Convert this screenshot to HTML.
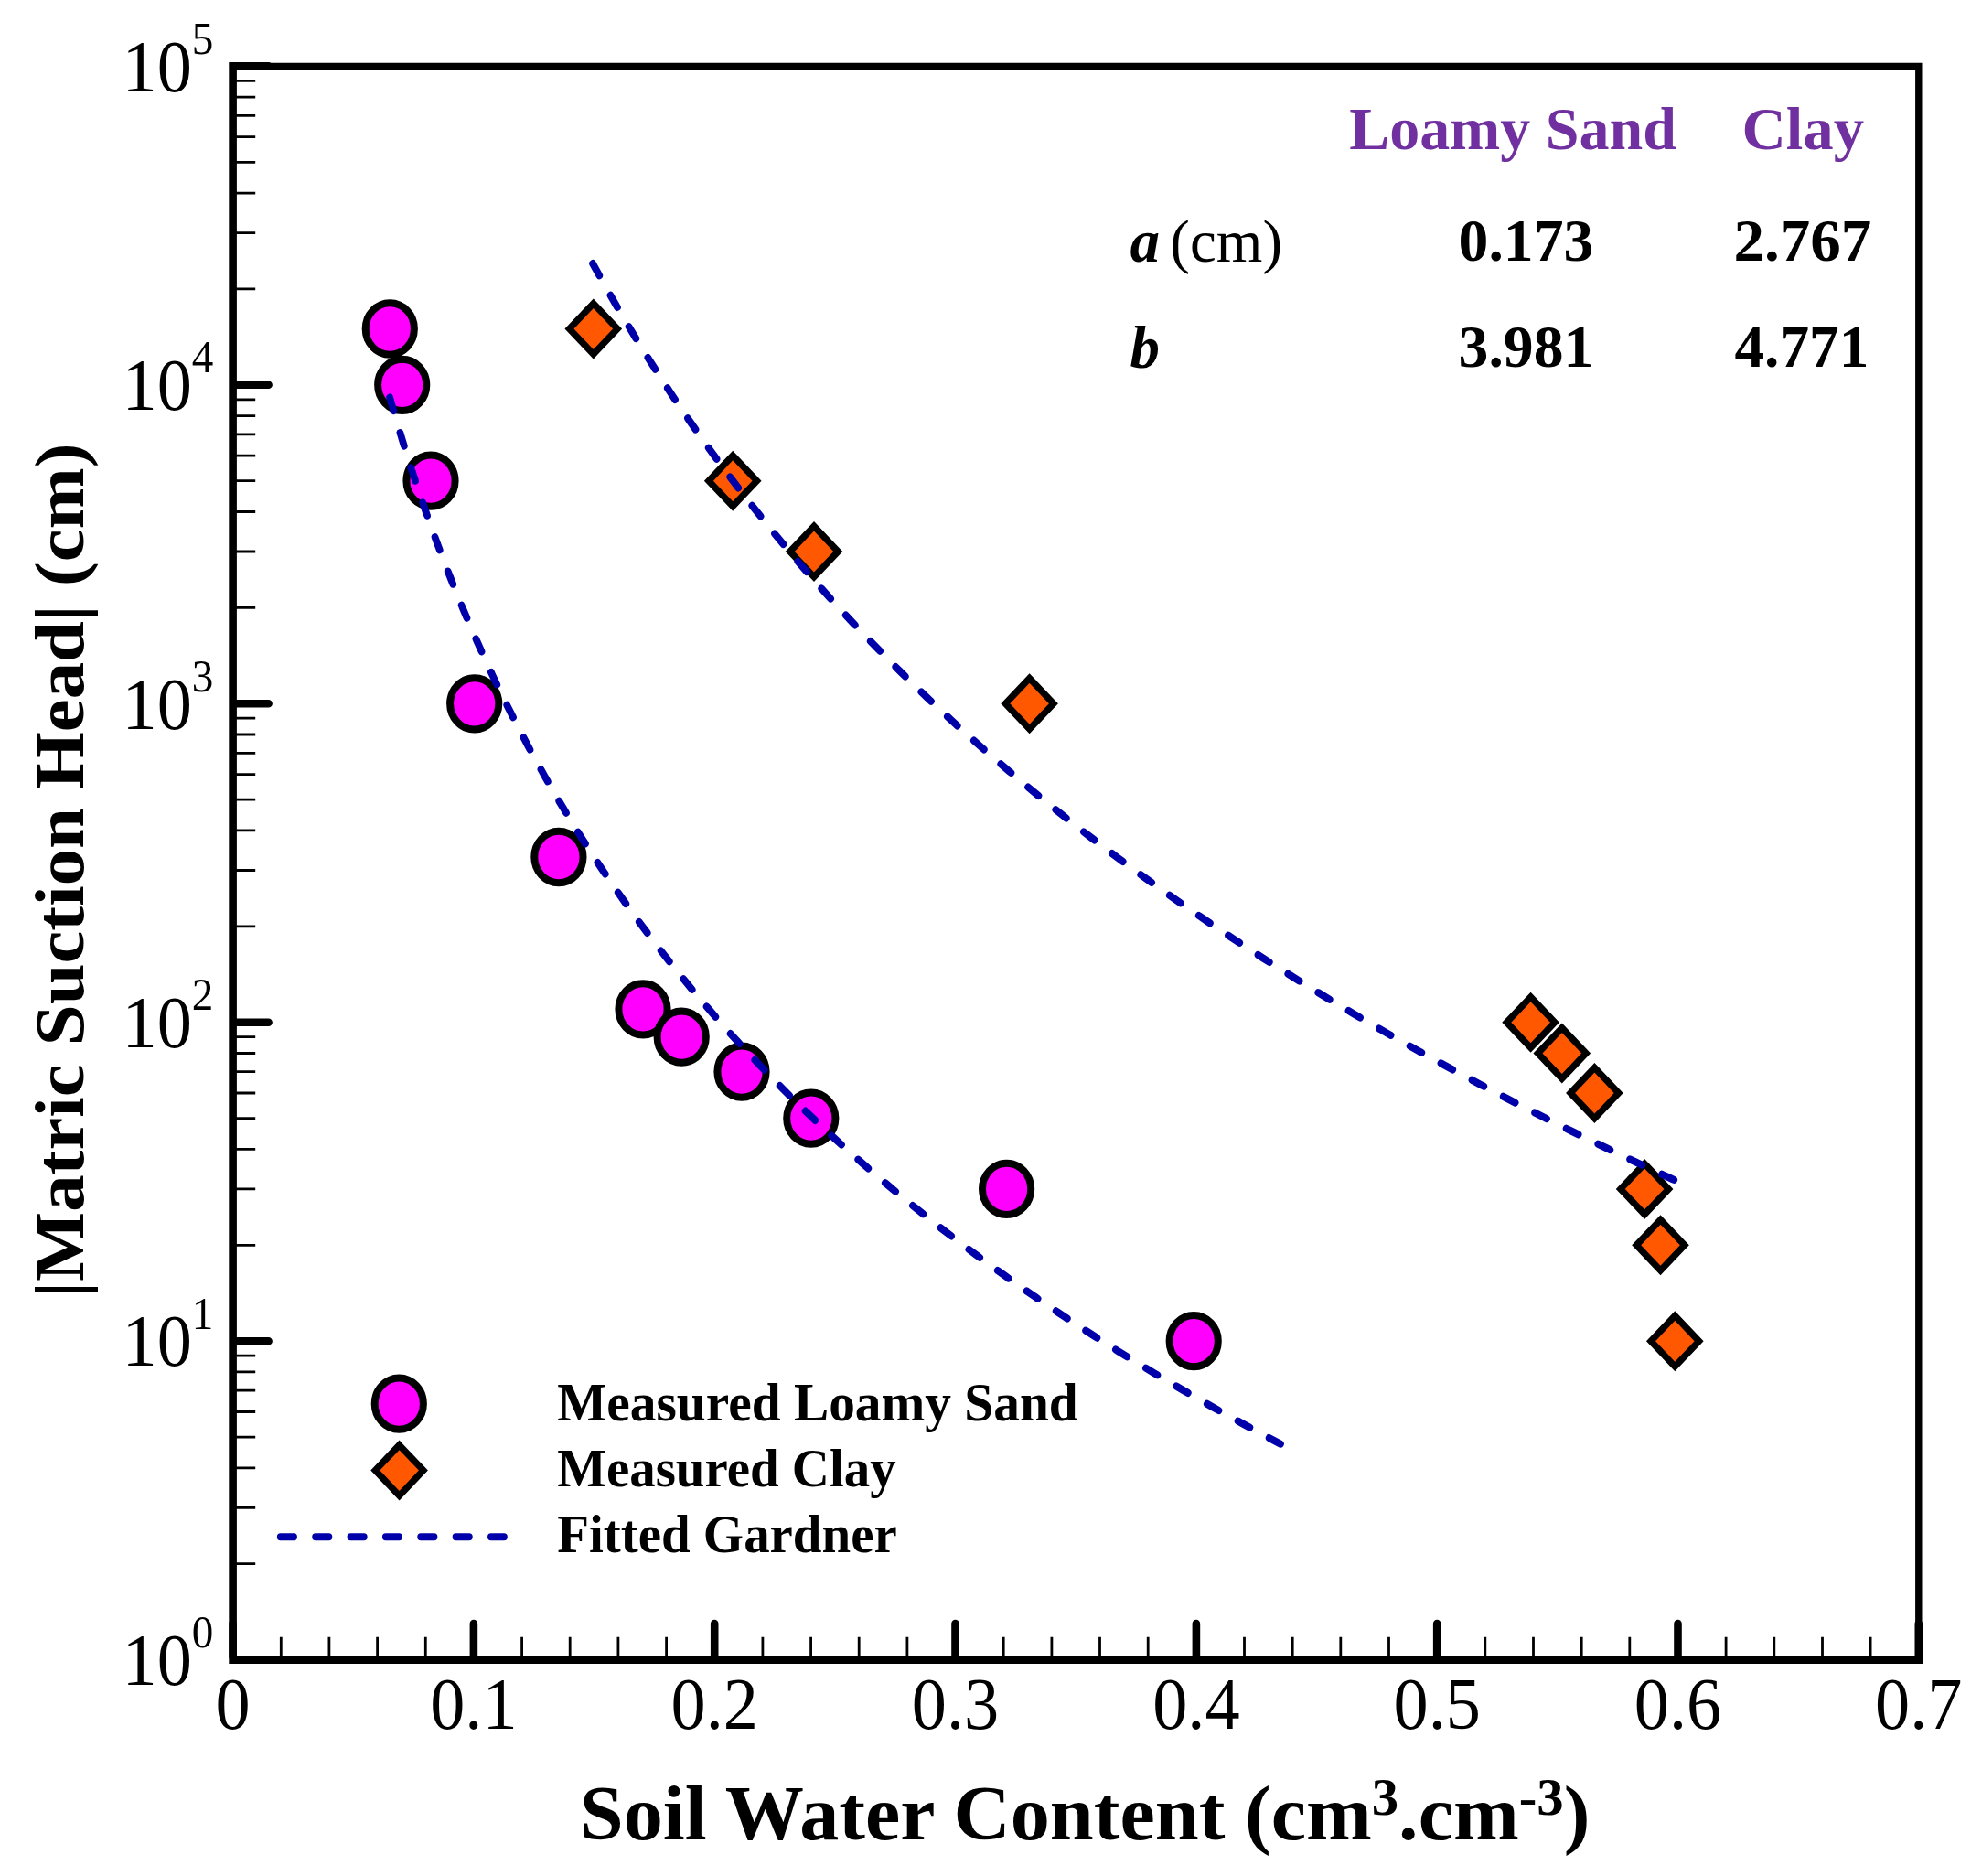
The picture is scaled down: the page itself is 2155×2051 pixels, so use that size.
<!DOCTYPE html>
<html lang="en"><head><meta charset="utf-8"><title>Soil water retention - Gardner fit</title>
<style>html,body{margin:0;padding:0;background:#fff}body{width:2155px;height:2051px;overflow:hidden}svg{display:block}</style>
</head><body>
<svg width="2155" height="2051" viewBox="0 0 2155 2051">
<rect width="2155" height="2051" fill="#fff"/>
<g fill="#ff00ff" stroke="#000" stroke-width="8.0">
<ellipse cx="426.3" cy="359.5" rx="26.6" ry="28.15"/>
<ellipse cx="439.7" cy="420.8" rx="26.6" ry="28.15"/>
<ellipse cx="471.0" cy="525.7" rx="26.6" ry="28.15"/>
<ellipse cx="518.7" cy="769.3" rx="26.6" ry="28.15"/>
<ellipse cx="610.9" cy="937.0" rx="26.6" ry="28.15"/>
<ellipse cx="703.0" cy="1103.3" rx="26.6" ry="28.15"/>
<ellipse cx="745.2" cy="1133.7" rx="26.6" ry="28.15"/>
<ellipse cx="811.0" cy="1171.7" rx="26.6" ry="28.15"/>
<ellipse cx="886.8" cy="1222.6" rx="26.6" ry="28.15"/>
<ellipse cx="1100.6" cy="1299.9" rx="26.6" ry="28.15"/>
<ellipse cx="1305.2" cy="1466.2" rx="26.6" ry="28.15"/>
<ellipse cx="436.3" cy="1534.7" rx="26.6" ry="28.15"/>
</g>
<g fill="#ff5800" stroke="#000" stroke-width="7.3" stroke-linejoin="miter">
<path d="M648.8 331.8L675.1 359.5L648.8 387.2L622.5 359.5Z"/>
<path d="M801.2 498.0L827.5 525.7L801.2 553.4L774.9 525.7Z"/>
<path d="M890.0 575.3L916.3 603.0L890.0 630.7L863.7 603.0Z"/>
<path d="M1125.6 741.6L1151.9 769.3L1125.6 797.0L1099.3 769.3Z"/>
<path d="M1673.6 1090.0L1699.9 1117.7L1673.6 1145.4L1647.3 1117.7Z"/>
<path d="M1707.8 1123.8L1734.1 1151.5L1707.8 1179.2L1681.5 1151.5Z"/>
<path d="M1743.4 1167.3L1769.7 1195.0L1743.4 1222.7L1717.1 1195.0Z"/>
<path d="M1798.1 1272.2L1824.4 1299.9L1798.1 1327.6L1771.8 1299.9Z"/>
<path d="M1815.5 1333.6L1841.8 1361.3L1815.5 1389.0L1789.2 1361.3Z"/>
<path d="M1831.3 1438.5L1857.6 1466.2L1831.3 1493.9L1805.0 1466.2Z"/>
<path d="M436.6 1579.9L462.9 1607.6L436.6 1635.3L410.3 1607.6Z"/>
</g>
<g transform="scale(1 1.055)" fill="none" stroke="#0000aa" stroke-width="7.7" stroke-linecap="round" stroke-dasharray="14.4 23.83" stroke-dashoffset="-3.85">
<path d="M425.0 408.20L433.1 434.81L441.2 460.23L449.3 484.56L457.5 507.91L465.6 530.33L473.7 551.91L481.8 572.70L490.0 592.76L498.1 612.14L506.2 630.89L514.3 649.03L522.5 666.62L530.6 683.69L538.7 700.26L546.8 716.36L555.0 732.02L563.1 747.26L571.2 762.10L579.3 776.57L587.5 790.68L595.6 804.46L603.7 817.90L611.8 831.04L620.0 843.88L628.1 856.44L636.2 868.73L644.4 880.76L652.5 892.54L660.6 904.09L668.7 915.40L676.9 926.50L685.0 937.38L693.1 948.06L701.2 958.55L709.4 968.84L717.5 978.95L725.6 988.89L733.7 998.66L741.9 1008.26L750.0 1017.70L758.1 1026.99L766.2 1036.14L774.4 1045.13L782.5 1053.99L790.6 1062.71L798.7 1071.30L806.9 1079.77L815.0 1088.11L823.1 1096.33L831.2 1104.43L839.4 1112.42L847.5 1120.30L855.6 1128.08L863.7 1135.74L871.9 1143.31L880.0 1150.78L888.1 1158.15L896.2 1165.43L904.4 1172.61L912.5 1179.71L920.6 1186.72L928.7 1193.64L936.9 1200.48L945.0 1207.24L953.1 1213.93L961.2 1220.53L969.4 1227.06L977.5 1233.51L985.6 1239.89L993.7 1246.21L1001.9 1252.45L1010.0 1258.63L1018.1 1264.73L1026.2 1270.78L1034.4 1276.76L1042.5 1282.68L1050.6 1288.54L1058.7 1294.34L1066.9 1300.08L1075.0 1305.76L1083.1 1311.39L1091.3 1316.96L1099.4 1322.48L1107.5 1327.95L1115.6 1333.36L1123.8 1338.73L1131.9 1344.04L1140.0 1349.30L1148.1 1354.52L1156.3 1359.69L1164.4 1364.81L1172.5 1369.89L1180.6 1374.92L1188.8 1379.91L1196.9 1384.86L1205.0 1389.76L1213.1 1394.62L1221.3 1399.44L1229.4 1404.22L1237.5 1408.96L1245.6 1413.66L1253.8 1418.32L1261.9 1422.95L1270.0 1427.54L1278.1 1432.09L1286.3 1436.60L1294.4 1441.08L1302.5 1445.53L1310.6 1449.94L1318.8 1454.32L1326.9 1458.66L1335.0 1462.97L1343.1 1467.25L1351.3 1471.49L1359.4 1475.71L1367.5 1479.89L1375.6 1484.05L1383.8 1488.17L1391.9 1492.27L1400.0 1496.33"/>
<path d="M646.1 269.79L656.1 286.93L666.0 303.65L675.9 319.97L685.9 335.91L695.8 351.48L705.7 366.72L715.7 381.61L725.6 396.20L735.5 410.47L745.4 424.46L755.4 438.16L765.3 451.60L775.2 464.78L785.2 477.70L795.1 490.39L805.0 502.85L814.9 515.09L824.9 527.11L834.8 538.92L844.7 550.53L854.7 561.95L864.6 573.18L874.5 584.23L884.4 595.10L894.4 605.81L904.3 616.35L914.2 626.73L924.2 636.95L934.1 647.02L944.0 656.95L954.0 666.74L963.9 676.38L973.8 685.90L983.7 695.28L993.7 704.54L1003.6 713.67L1013.5 722.68L1023.5 731.58L1033.4 740.36L1043.3 749.03L1053.2 757.59L1063.2 766.05L1073.1 774.40L1083.0 782.65L1093.0 790.80L1102.9 798.86L1112.8 806.82L1122.7 814.70L1132.7 822.48L1142.6 830.17L1152.5 837.78L1162.5 845.31L1172.4 852.75L1182.3 860.12L1192.3 867.40L1202.2 874.61L1212.1 881.74L1222.0 888.80L1232.0 895.79L1241.9 902.71L1251.8 909.56L1261.8 916.34L1271.7 923.05L1281.6 929.70L1291.5 936.28L1301.5 942.80L1311.4 949.26L1321.3 955.66L1331.3 962.00L1341.2 968.29L1351.1 974.51L1361.0 980.68L1371.0 986.79L1380.9 992.85L1390.8 998.86L1400.8 1004.81L1410.7 1010.72L1420.6 1016.57L1430.6 1022.37L1440.5 1028.13L1450.4 1033.83L1460.3 1039.49L1470.3 1045.10L1480.2 1050.67L1490.1 1056.19L1500.1 1061.67L1510.0 1067.10L1519.9 1072.49L1529.8 1077.84L1539.8 1083.15L1549.7 1088.42L1559.6 1093.64L1569.6 1098.83L1579.5 1103.98L1589.4 1109.09L1599.3 1114.16L1609.3 1119.19L1619.2 1124.19L1629.1 1129.15L1639.1 1134.08L1649.0 1138.97L1658.9 1143.83L1668.9 1148.65L1678.8 1153.43L1688.7 1158.19L1698.6 1162.91L1708.6 1167.60L1718.5 1172.26L1728.4 1176.88L1738.4 1181.48L1748.3 1186.04L1758.2 1190.58L1768.1 1195.08L1778.1 1199.56L1788.0 1204.00L1797.9 1208.42L1807.9 1212.81L1817.8 1217.17L1827.7 1221.50L1837.6 1225.81"/>
<path stroke-dashoffset="0" stroke-dasharray="14.4 23.96" d="M306.7 1592.70H551"/>
</g>
<g stroke="#000" stroke-width="2.8" fill="none">
<path d="M254.6 1709.7H279.2M254.6 1648.4H279.2M254.6 1604.8H279.2M254.6 1571.1H279.2M254.6 1543.5H279.2M254.6 1520.1H279.2M254.6 1499.9H279.2M254.6 1482.1H279.2M254.6 1361.3H279.2M254.6 1299.9H279.2M254.6 1256.4H279.2M254.6 1222.6H279.2M254.6 1195.0H279.2M254.6 1171.7H279.2M254.6 1151.5H279.2M254.6 1133.7H279.2M254.6 1012.8H279.2M254.6 951.5H279.2M254.6 907.9H279.2M254.6 874.2H279.2M254.6 846.6H279.2M254.6 823.3H279.2M254.6 803.0H279.2M254.6 785.2H279.2M254.6 664.4H279.2M254.6 603.0H279.2M254.6 559.5H279.2M254.6 525.7H279.2M254.6 498.1H279.2M254.6 474.8H279.2M254.6 454.6H279.2M254.6 436.8H279.2M254.6 315.9H279.2M254.6 254.6H279.2M254.6 211.1H279.2M254.6 177.3H279.2M254.6 149.7H279.2M254.6 126.4H279.2M254.6 106.2H279.2M254.6 88.3H279.2M307.3 1814.6V1789.8M359.9 1814.6V1789.8M412.6 1814.6V1789.8M465.3 1814.6V1789.8M570.6 1814.6V1789.8M623.2 1814.6V1789.8M675.9 1814.6V1789.8M728.6 1814.6V1789.8M833.9 1814.6V1789.8M886.6 1814.6V1789.8M939.2 1814.6V1789.8M991.9 1814.6V1789.8M1097.2 1814.6V1789.8M1149.9 1814.6V1789.8M1202.5 1814.6V1789.8M1255.2 1814.6V1789.8M1360.5 1814.6V1789.8M1413.2 1814.6V1789.8M1465.8 1814.6V1789.8M1518.5 1814.6V1789.8M1623.8 1814.6V1789.8M1676.5 1814.6V1789.8M1729.2 1814.6V1789.8M1781.8 1814.6V1789.8M1887.1 1814.6V1789.8M1939.8 1814.6V1789.8M1992.5 1814.6V1789.8M2045.1 1814.6V1789.8"/>
</g>
<g stroke="#000" stroke-width="8.6" stroke-linecap="round" fill="none">
<path d="M257.6 1814.6H293.6M257.6 1466.2H293.6M257.6 1117.7H293.6M257.6 769.3H293.6M257.6 420.8H293.6M257.6 72.4H293.6M254.6 1811.6V1775.1M517.9 1811.6V1775.1M781.2 1811.6V1775.1M1044.5 1811.6V1775.1M1307.9 1811.6V1775.1M1571.2 1811.6V1775.1M1834.5 1811.6V1775.1M2097.8 1811.6V1775.1"/>
</g>
<path d="M254.6 72.4H2097.8V1814.6" fill="none" stroke="#000" stroke-width="7.4" stroke-linejoin="miter" stroke-linecap="square"/>
<path d="M254.6 72.4V1814.6H2097.8" fill="none" stroke="#000" stroke-width="8.6" stroke-linejoin="miter" stroke-linecap="square"/>
<g style="font-family:'Liberation Serif','Times New Roman',serif">
<text transform="translate(133.5 1841.8) scale(0.942 1)" font-size="81" text-anchor="start" font-weight="normal" fill="#000" >10<tspan font-size="50" dy="-40.6">0</tspan></text>
<text transform="translate(133.5 1493.4) scale(0.942 1)" font-size="81" text-anchor="start" font-weight="normal" fill="#000" >10<tspan font-size="50" dy="-40.6">1</tspan></text>
<text transform="translate(133.5 1144.9) scale(0.942 1)" font-size="81" text-anchor="start" font-weight="normal" fill="#000" >10<tspan font-size="50" dy="-40.6">2</tspan></text>
<text transform="translate(133.5 796.5) scale(0.942 1)" font-size="81" text-anchor="start" font-weight="normal" fill="#000" >10<tspan font-size="50" dy="-40.6">3</tspan></text>
<text transform="translate(133.5 448.0) scale(0.942 1)" font-size="81" text-anchor="start" font-weight="normal" fill="#000" >10<tspan font-size="50" dy="-40.6">4</tspan></text>
<text transform="translate(133.5 99.6) scale(0.942 1)" font-size="81" text-anchor="start" font-weight="normal" fill="#000" >10<tspan font-size="50" dy="-40.6">5</tspan></text>
<text transform="translate(254.6 1889.8) scale(0.942 1)" font-size="81" text-anchor="middle" font-weight="normal" fill="#000" >0</text>
<text transform="translate(517.9 1889.8) scale(0.942 1)" font-size="81" text-anchor="middle" font-weight="normal" fill="#000" >0.1</text>
<text transform="translate(781.2 1889.8) scale(0.942 1)" font-size="81" text-anchor="middle" font-weight="normal" fill="#000" >0.2</text>
<text transform="translate(1044.5 1889.8) scale(0.942 1)" font-size="81" text-anchor="middle" font-weight="normal" fill="#000" >0.3</text>
<text transform="translate(1307.9 1889.8) scale(0.942 1)" font-size="81" text-anchor="middle" font-weight="normal" fill="#000" >0.4</text>
<text transform="translate(1571.2 1889.8) scale(0.942 1)" font-size="81" text-anchor="middle" font-weight="normal" fill="#000" >0.5</text>
<text transform="translate(1834.5 1889.8) scale(0.942 1)" font-size="81" text-anchor="middle" font-weight="normal" fill="#000" >0.6</text>
<text transform="translate(2097.8 1889.8) scale(0.942 1)" font-size="81" text-anchor="middle" font-weight="normal" fill="#000" >0.7</text>
<text transform="translate(633.8 2011.0) scale(1.0143 1)" font-size="85" text-anchor="start" font-weight="bold" fill="#000" >Soil Water Content (cm<tspan font-size="58" dy="-27">3</tspan><tspan dy="27">.cm</tspan><tspan font-size="58" dy="-27">-3</tspan><tspan dy="27">)</tspan></text>
<text transform="translate(91 1418.7) rotate(-90) scale(1.0484 1)" font-size="77" font-weight="bold">|Matric Suction Head| (cm)</text>
<text transform="translate(1475.3 163.1) scale(1.0 1)" font-size="66" text-anchor="start" font-weight="bold" fill="#7030a0" >Loamy Sand</text>
<text transform="translate(1904.6 163.1) scale(1.012 1)" font-size="66" text-anchor="start" font-weight="bold" fill="#7030a0" >Clay</text>
<text transform="translate(1235.6 285.5) scale(1.0 1)" font-size="65" text-anchor="start" font-weight="normal" fill="#000" ><tspan font-weight="bold" font-style="italic">a</tspan><tspan dx="-5"> (cm)</tspan></text>
<text transform="translate(1235.6 402.0) scale(1.0 1)" font-size="65" text-anchor="start" font-weight="normal" fill="#000" ><tspan font-weight="bold" font-style="italic">b</tspan></text>
<text transform="translate(1594.6 284.7) scale(0.995 1)" font-size="66" text-anchor="start" font-weight="bold" fill="#000" >0.173</text>
<text transform="translate(1895.6 284.7) scale(1.015 1)" font-size="66" text-anchor="start" font-weight="bold" fill="#000" >2.767</text>
<text transform="translate(1594.6 401.2) scale(0.995 1)" font-size="66" text-anchor="start" font-weight="bold" fill="#000" >3.981</text>
<text transform="translate(1896.4 401.2) scale(0.99 1)" font-size="66" text-anchor="start" font-weight="bold" fill="#000" >4.771</text>
<text transform="translate(609.2 1552.7) scale(0.9645 1)" font-size="59.5" text-anchor="start" font-weight="bold" fill="#000" >Measured Loamy Sand</text>
<text transform="translate(609.2 1624.5) scale(0.957 1)" font-size="59.5" text-anchor="start" font-weight="bold" fill="#000" >Measured Clay</text>
<text transform="translate(609.2 1696.8) scale(0.957 1)" font-size="59.5" text-anchor="start" font-weight="bold" fill="#000" >Fitted Gardner</text>
</g>
</svg>
</body></html>
